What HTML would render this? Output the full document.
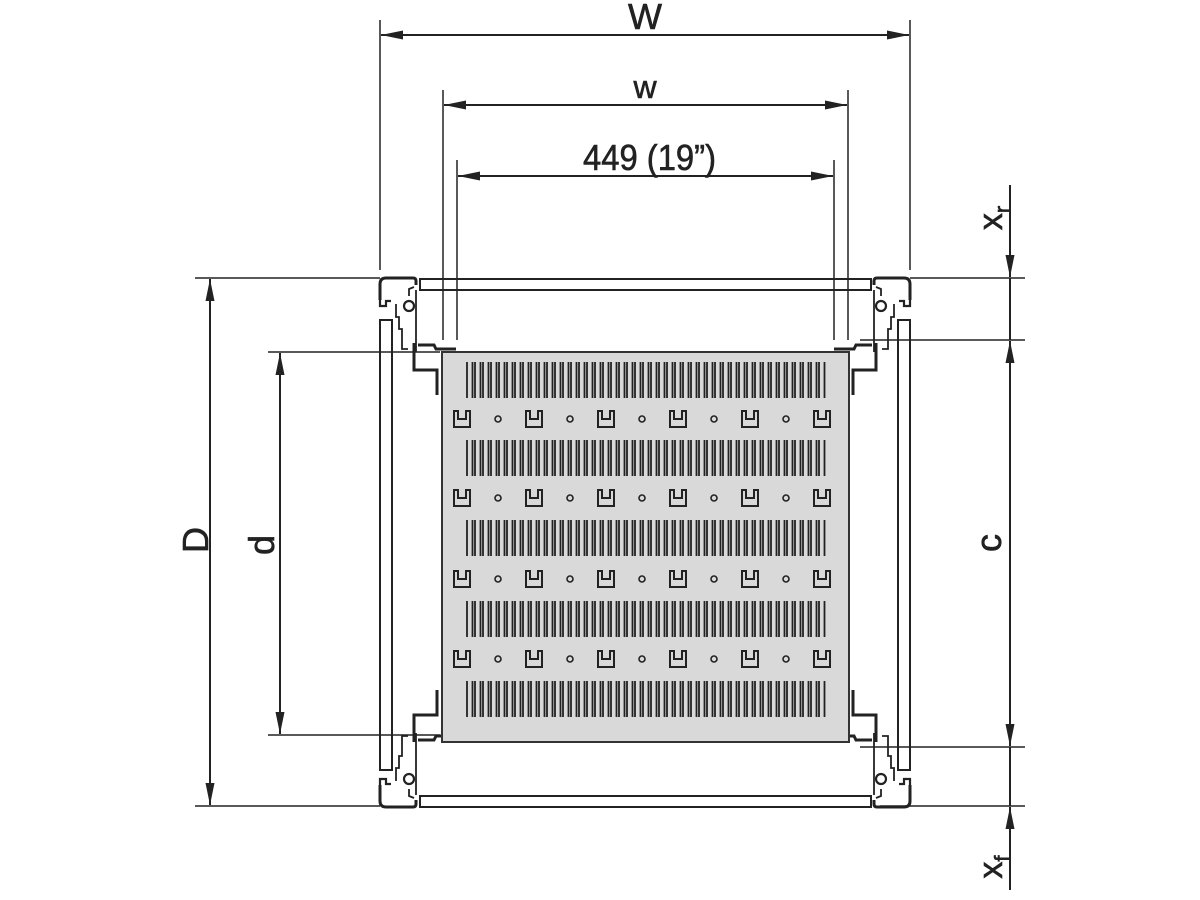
<!DOCTYPE html>
<html><head><meta charset="utf-8"><style>
html,body{margin:0;padding:0;background:#fff;}
svg{display:block;}
text{font-family:"Liberation Sans",sans-serif;fill:#222;stroke:#222;stroke-width:0.6;}
</style></head><body>
<svg width="1200" height="900" viewBox="0 0 1200 900" xmlns="http://www.w3.org/2000/svg">
<defs>
<pattern id="slots" x="466" y="0" width="8" height="900" patternUnits="userSpaceOnUse">
<rect x="1" y="0" width="5.5" height="900" fill="none" stroke="#222" stroke-width="1.8"/>
</pattern>
<marker id="ar" viewBox="0 0 22 10" refX="22" refY="5" markerWidth="22" markerHeight="10" markerUnits="userSpaceOnUse" orient="auto-start-reverse">
<path d="M0,0.5 L22,5 L0,9.5 z" fill="#222"/>
</marker>
<g id="clip"><path d="M-8,-8 v16 h16 v-16 h-4 v8 h-8 v-8 z" fill="none" stroke="#222" stroke-width="2"/></g>
<g id="dot"><circle r="3" fill="none" stroke="#222" stroke-width="1.6"/></g>
<g id="corner" fill="none" stroke="#222">
<path d="M380,300 v-16 q0,-6 6,-6 h27 q3,0 3,3 v4" stroke-width="3"/>
<path d="M380,300 v6 h6 l0,-5 h5" stroke-width="2.2"/>
<path d="M414,287 l-5,2 v7 M396,304 v13 l3,0 v12 l3,0 v20 h6" stroke-width="1.8"/>
<circle cx="409" cy="306" r="5" stroke-width="2.2"/>
<path d="M416,290 v62" stroke-width="1.8"/>
<path d="M414,343 v27 h23 v25" stroke-width="3"/>
<path d="M418,345 h16 l2,4 h20" stroke-width="3"/>
</g>
</defs>

<g stroke="#222" stroke-width="1.5">
<line x1="380" y1="20" x2="380" y2="270"/>
<line x1="910" y1="20" x2="910" y2="270"/>
<line x1="443" y1="90" x2="443" y2="340"/>
<line x1="848" y1="90" x2="848" y2="340"/>
<line x1="457" y1="160" x2="457" y2="340"/>
<line x1="834" y1="160" x2="834" y2="340"/>
<line x1="195" y1="278" x2="380" y2="278"/>
<line x1="195" y1="806" x2="380" y2="806"/>
<line x1="268" y1="352" x2="440" y2="352"/>
<line x1="268" y1="735" x2="440" y2="735"/>
<line x1="910" y1="278" x2="1025" y2="278"/>
<line x1="860" y1="340" x2="1025" y2="340"/>
<line x1="860" y1="747" x2="1025" y2="747"/>
<line x1="880" y1="806" x2="1025" y2="806"/>
</g>
<g stroke="#222" stroke-width="2" marker-start="url(#ar)" marker-end="url(#ar)">
<line x1="381" y1="35" x2="909" y2="35"/>
<line x1="444" y1="105" x2="847" y2="105"/>
<line x1="458" y1="176" x2="833" y2="176"/>
<line x1="210" y1="279" x2="210" y2="805"/>
<line x1="280" y1="353" x2="280" y2="734"/>
<line x1="1010" y1="341" x2="1010" y2="746"/>
</g>
<g stroke="#222" stroke-width="2">
<line x1="1010" y1="185" x2="1010" y2="277" marker-end="url(#ar)"/>
<line x1="1010" y1="890" x2="1010" y2="807" marker-end="url(#ar)"/>
<line x1="1010" y1="278" x2="1010" y2="340"/>
<line x1="1010" y1="747" x2="1010" y2="806"/>
</g>

<text x="645" y="29" font-size="36" text-anchor="middle">W</text>
<text x="645" y="98" font-size="32" text-anchor="middle">w</text>
<text x="583" y="170" font-size="36" textLength="133" lengthAdjust="spacingAndGlyphs">449 (19”)</text>
<text transform="translate(208,540) rotate(-90)" font-size="36" text-anchor="middle">D</text>
<text transform="translate(274,545) rotate(-90)" font-size="36" text-anchor="middle">d</text>
<text transform="translate(1001,543) rotate(-90)" font-size="36" text-anchor="middle">c</text>
<text transform="translate(1002,218) rotate(-90)" font-size="34" text-anchor="middle">x<tspan font-size="22" dy="8">r</tspan></text>
<text transform="translate(1002,867) rotate(-90)" font-size="34" text-anchor="middle">x<tspan font-size="22" dy="8">f</tspan></text>

<g fill="none" stroke="#222" stroke-width="2">
<rect x="420" y="279" width="451" height="11"/>
<rect x="420" y="796" width="451" height="11"/>
<rect x="380" y="320" width="12" height="450"/>
<rect x="898" y="320" width="12" height="450"/>
</g>

<use href="#corner"/>
<use href="#corner" transform="translate(1290,0) scale(-1,1)"/>
<use href="#corner" transform="translate(0,1085) scale(1,-1)"/>
<use href="#corner" transform="translate(1290,1085) scale(-1,-1)"/>

<rect x="442" y="352" width="407" height="390" fill="#d9d9d9" stroke="#333" stroke-width="2"/>
<g fill="url(#slots)">
<rect x="466" y="362" width="360" height="36"/>
<rect x="466" y="440" width="360" height="36"/>
<rect x="466" y="520" width="360" height="36"/>
<rect x="466" y="601" width="360" height="36"/>
<rect x="466" y="681" width="360" height="36"/>
</g>
<g>
<use href="#clip" x="462" y="419"/><use href="#dot" x="498" y="419"/>
<use href="#clip" x="534" y="419"/><use href="#dot" x="570" y="419"/>
<use href="#clip" x="606" y="419"/><use href="#dot" x="642" y="419"/>
<use href="#clip" x="678" y="419"/><use href="#dot" x="714" y="419"/>
<use href="#clip" x="750" y="419"/><use href="#dot" x="786" y="419"/>
<use href="#clip" x="822" y="419"/>

<use href="#clip" x="462" y="498"/><use href="#dot" x="498" y="498"/>
<use href="#clip" x="534" y="498"/><use href="#dot" x="570" y="498"/>
<use href="#clip" x="606" y="498"/><use href="#dot" x="642" y="498"/>
<use href="#clip" x="678" y="498"/><use href="#dot" x="714" y="498"/>
<use href="#clip" x="750" y="498"/><use href="#dot" x="786" y="498"/>
<use href="#clip" x="822" y="498"/>

<use href="#clip" x="462" y="579"/><use href="#dot" x="498" y="579"/>
<use href="#clip" x="534" y="579"/><use href="#dot" x="570" y="579"/>
<use href="#clip" x="606" y="579"/><use href="#dot" x="642" y="579"/>
<use href="#clip" x="678" y="579"/><use href="#dot" x="714" y="579"/>
<use href="#clip" x="750" y="579"/><use href="#dot" x="786" y="579"/>
<use href="#clip" x="822" y="579"/>

<use href="#clip" x="462" y="659"/><use href="#dot" x="498" y="659"/>
<use href="#clip" x="534" y="659"/><use href="#dot" x="570" y="659"/>
<use href="#clip" x="606" y="659"/><use href="#dot" x="642" y="659"/>
<use href="#clip" x="678" y="659"/><use href="#dot" x="714" y="659"/>
<use href="#clip" x="750" y="659"/><use href="#dot" x="786" y="659"/>
<use href="#clip" x="822" y="659"/>
</g>
</svg>
</body></html>
